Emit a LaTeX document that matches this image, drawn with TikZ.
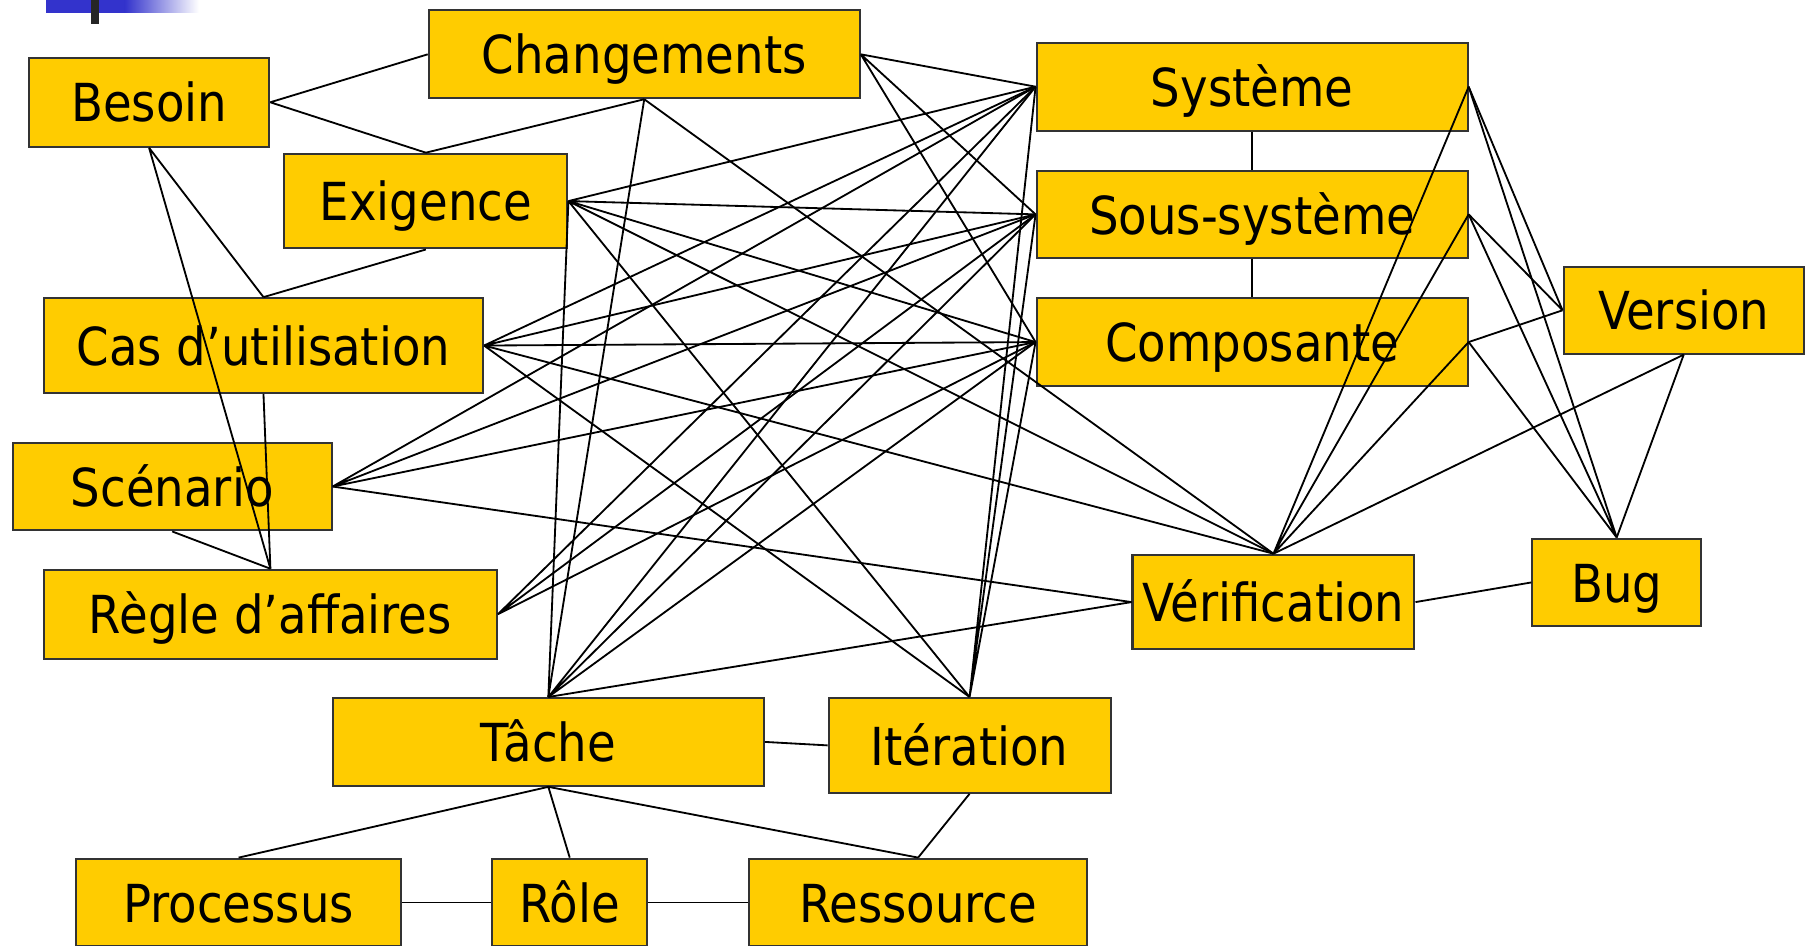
\documentclass[tikz,border=0pt]{standalone}
\usepackage{fontspec}
\setmainfont{DejaVu Sans}[FakeStretch=0.89]
\definecolor{boxyellow}{HTML}{FFCC00}
\definecolor{barblue}{HTML}{3333CC}
\tikzset{
	box/.style={draw=black!80, line width=0.5pt, fill=boxyellow, inner sep=0pt,
		minimum height=0.76cm, text height=0.34cm, text depth=0pt,
		font=\fontsize{12.9}{15}\selectfont},
	tallbox/.style={box, minimum height=0.82cm},
	link/.style={line width=0.45pt},
}

\begin{document}
\begin{tikzpicture}[x=0.1mm, y=-0.1mm]
	\useasboundingbox (0,0) rectangle (1568,818);
	% bout de la barre de titre
	\fill [barblue] (40,0) rectangle (108,11);
	\shade [left color=barblue, right color=white] (108,0) rectangle (172,11);
	\fill [black!85] (79,0) rectangle (86,21);

	\node [box, minimum width=3.73cm] (chg) at (557.5,47) {Changements};
	\node [box, minimum width=2.08cm, minimum height=0.77cm] (bes) at (129,88.5) {Besoin};
	\node [tallbox, minimum width=2.45cm] (exi) at (368.5,174) {Exigence};
	\node [tallbox, minimum width=3.80cm] (cas) at (228,299) {Cas d’utilisation};
	\node [box, minimum width=2.76cm] (scn) at (149,421) {Scénario};
	\node [box, minimum width=3.92cm, minimum height=0.77cm] (rgl) at (234,531.5) {Règle d’affaires};
	\node [box, minimum width=3.73cm] (sys) at (1083.5,75) {Système};
	\node [box, minimum width=3.73cm, minimum height=0.75cm] (sss) at (1083.5,185.5) {Sous-système};
	\node [box, minimum width=3.73cm] (cmp) at (1083.5,296) {Composante};
	\node [box, minimum width=2.08cm, minimum height=0.75cm] (ver) at (1457,268.5) {Version};
	\node [tallbox, minimum width=2.44cm] (vrf) at (1102,521) {Vérification};
	\node [box, minimum width=1.46cm] (bug) at (1399,504) {Bug};
	\node [box, minimum width=3.73cm] (tch) at (474.5,642) {Tâche};
	\node [tallbox, minimum width=2.44cm] (itr) at (839,645) {Itération};
	\node [box, minimum width=2.81cm] (prc) at (206.5,781) {Processus};
	\node [box, minimum width=1.34cm] (rol) at (493,781) {Rôle};
	\node [box, minimum width=2.93cm] (res) at (794.5,781) {Ressource};

	\draw [link] (bes.east) -- (chg.west) (bes.east) -- (exi.north);
	\draw [link] (bes.south) -- (cas.north) (bes.south) -- (rgl.north);
	\draw [link] (chg.south) -- (exi.north) (exi.south) -- (cas.north);
	\draw [link] (cas.south) -- (rgl.north) (scn.south) -- (rgl.north);
	\draw [link] (sys.south) -- (sss.north) (sss.south) -- (cmp.north);

	\draw [link] (chg.east) -- (sys.west) (chg.east) -- (sss.west) (chg.east) -- (cmp.west);
	\draw [link] (chg.south) -- (tch.north) (chg.south) -- (vrf.north);
	\draw [link] (exi.east) -- (sys.west) (exi.east) -- (sss.west) (exi.east) -- (cmp.west);
	\draw [link] (exi.east) -- (vrf.north) (exi.east) -- (itr.north) (exi.east) -- (tch.north);
	\draw [link] (cas.east) -- (sys.west) (cas.east) -- (sss.west) (cas.east) -- (cmp.west);
	\draw [link] (cas.east) -- (vrf.north) (cas.east) -- (itr.north);
	\draw [link] (scn.east) -- (sys.west) (scn.east) -- (sss.west) (scn.east) -- (cmp.west);
	\draw [link] (scn.east) -- (vrf.west);
	\draw [link] (rgl.east) -- (sys.west) (rgl.east) -- (sss.west) (rgl.east) -- (cmp.west);
	\draw [link] (tch.north) -- (sys.west) (tch.north) -- (sss.west) (tch.north) -- (cmp.west);
	\draw [link] (tch.north) -- (vrf.west);
	\draw [link] (itr.north) -- (sys.west) (itr.north) -- (sss.west) (itr.north) -- (cmp.west);

	\draw [link] (tch.east) -- (itr.west);
	\draw [link] (tch.south) -- (prc.north) (tch.south) -- (rol.north) (tch.south) -- (res.north);
	\draw [link] (itr.south) -- (res.north);
	\draw [link] (prc.east) -- (rol.west) (rol.east) -- (res.west);

	\draw [link] (vrf.north) -- (sys.east) (vrf.north) -- (sss.east) (vrf.north) -- (cmp.east);
	\draw [link] (vrf.north) -- (ver.south);
	\draw [link] (ver.west) -- (sys.east) (ver.west) -- (sss.east) (ver.west) -- (cmp.east);
	\draw [link] (bug.north) -- (sys.east) (bug.north) -- (sss.east) (bug.north) -- (cmp.east);
	\draw [link] (bug.north) -- (ver.south);
	\draw [link] (vrf.east) -- (bug.west);
\end{tikzpicture}
\end{document}
